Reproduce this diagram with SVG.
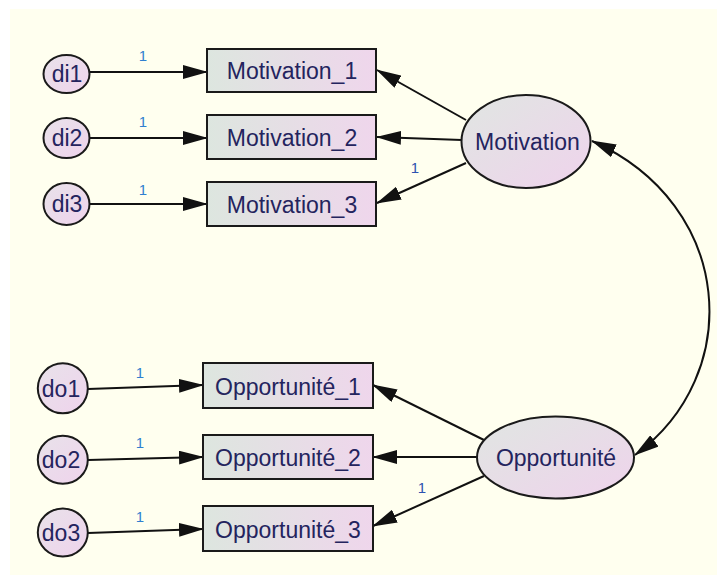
<svg xmlns="http://www.w3.org/2000/svg" width="717" height="577" viewBox="0 0 717 577">
<defs>
<linearGradient id="gRect" x1="0" y1="0" x2="1" y2="0">
<stop offset="0" stop-color="#dde6df"/>
<stop offset="1" stop-color="#efd6ec"/>
</linearGradient>
<linearGradient id="gEll" x1="0" y1="0" x2="1" y2="1">
<stop offset="0" stop-color="#e0e6e2"/>
<stop offset="1" stop-color="#efd3ec"/>
</linearGradient>
<linearGradient id="gCirc" x1="0" y1="0" x2="1" y2="1">
<stop offset="0" stop-color="#e8e2ea"/>
<stop offset="1" stop-color="#efd3ec"/>
</linearGradient>
<marker id="arr" markerUnits="userSpaceOnUse" markerWidth="25" markerHeight="14" viewBox="0 0 25 14" refX="24" refY="7" orient="auto-start-reverse">
<path d="M0,0 L25,7 L0,14 Z" fill="#111"/>
</marker>
</defs>
<style>
.bg{fill:#ffffef}
.obs{fill:url(#gRect);stroke:#1a1a1a;stroke-width:2}
.lat{fill:url(#gEll);stroke:#1a1a1a;stroke-width:2}
.err{fill:url(#gCirc);stroke:#1a1a1a;stroke-width:2}
.t{font-family:"Liberation Sans",Arial,sans-serif;font-size:23px;fill:#24245e;text-anchor:middle}
.w{font-family:"Liberation Sans",Arial,sans-serif;font-size:15px;fill:#2f7fd0;text-anchor:middle}
.w2{font-family:"Liberation Sans",Arial,sans-serif;font-size:15px;fill:#2c52b0;text-anchor:middle}
.c{stroke:#111;stroke-width:2;fill:none;marker-end:url(#arr)}
.cv{stroke:#111;stroke-width:2;fill:none;marker-start:url(#arr);marker-end:url(#arr)}
</style>
<rect class="bg" x="10" y="9" width="707" height="566"/>

<g id="connectors">
<line class="c" x1="89" y1="72" x2="207" y2="72"/>
<line class="c" x1="89" y1="138" x2="207" y2="138"/>
<line class="c" x1="89" y1="204" x2="207" y2="204"/>
<line class="c" x1="466" y1="120" x2="377" y2="70"/>
<line class="c" x1="462" y1="140" x2="377" y2="137"/>
<line class="c" x1="466" y1="163" x2="377" y2="203"/>
<line class="c" x1="88" y1="389" x2="203" y2="385"/>
<line class="c" x1="88" y1="460" x2="203" y2="457"/>
<line class="c" x1="88" y1="533" x2="203" y2="529"/>
<line class="c" x1="484" y1="440" x2="373" y2="385"/>
<line class="c" x1="477" y1="457" x2="373" y2="457"/>
<line class="c" x1="484" y1="476" x2="373" y2="526"/>
<path class="cv" d="M592,141 C735,205 745,375 635,455"/>
<text class="w" x="143" y="61">1</text>
<text class="w" x="143" y="127">1</text>
<text class="w" x="143" y="195">1</text>
<text class="w2" x="415" y="173">1</text>
<text class="w" x="140" y="378">1</text>
<text class="w" x="140" y="448">1</text>
<text class="w" x="140" y="522">1</text>
<text class="w2" x="422" y="493">1</text>
</g>

<g id="di1"><ellipse class="err" cx="66.5" cy="74" rx="23" ry="19"/><text class="t" x="67" y="81.5">di1</text></g>
<g id="di2"><ellipse class="err" cx="66.5" cy="138" rx="23" ry="20"/><text class="t" x="67" y="146">di2</text></g>
<g id="di3"><ellipse class="err" cx="66.5" cy="204" rx="23" ry="21"/><text class="t" x="67" y="212">di3</text></g>

<g id="Motivation_1"><rect class="obs" x="207" y="49" width="169" height="43"/><text class="t" x="292" y="79">Motivation_1</text></g>
<g id="Motivation_2"><rect class="obs" x="207" y="115" width="169" height="44"/><text class="t" x="292" y="145.5">Motivation_2</text></g>
<g id="Motivation_3"><rect class="obs" x="207" y="182" width="169" height="44"/><text class="t" x="292" y="212.5">Motivation_3</text></g>

<g id="Motivation"><ellipse class="lat" cx="526" cy="141.5" rx="64.5" ry="46.5"/><text class="t" x="527.5" y="150">Motivation</text></g>

<g id="do1"><ellipse class="err" cx="62.8" cy="388.3" rx="25" ry="25"/><text class="t" x="61" y="396.5">do1</text></g>
<g id="do2"><ellipse class="err" cx="62.8" cy="459.7" rx="25" ry="24"/><text class="t" x="61" y="468">do2</text></g>
<g id="do3"><ellipse class="err" cx="62.8" cy="532.5" rx="25" ry="24"/><text class="t" x="61" y="541">do3</text></g>

<g id="Opportunite_1"><rect class="obs" x="203" y="363" width="170" height="45"/><text class="t" x="288" y="394.5">Opportunité_1</text></g>
<g id="Opportunite_2"><rect class="obs" x="203" y="435" width="170" height="44"/><text class="t" x="288" y="466">Opportunité_2</text></g>
<g id="Opportunite_3"><rect class="obs" x="203" y="506" width="170" height="45"/><text class="t" x="288" y="537.5">Opportunité_3</text></g>

<g id="Opportunite"><ellipse class="lat" cx="555.5" cy="457.5" rx="78.5" ry="41"/><text class="t" x="556" y="466">Opportunité</text></g>
</svg>
